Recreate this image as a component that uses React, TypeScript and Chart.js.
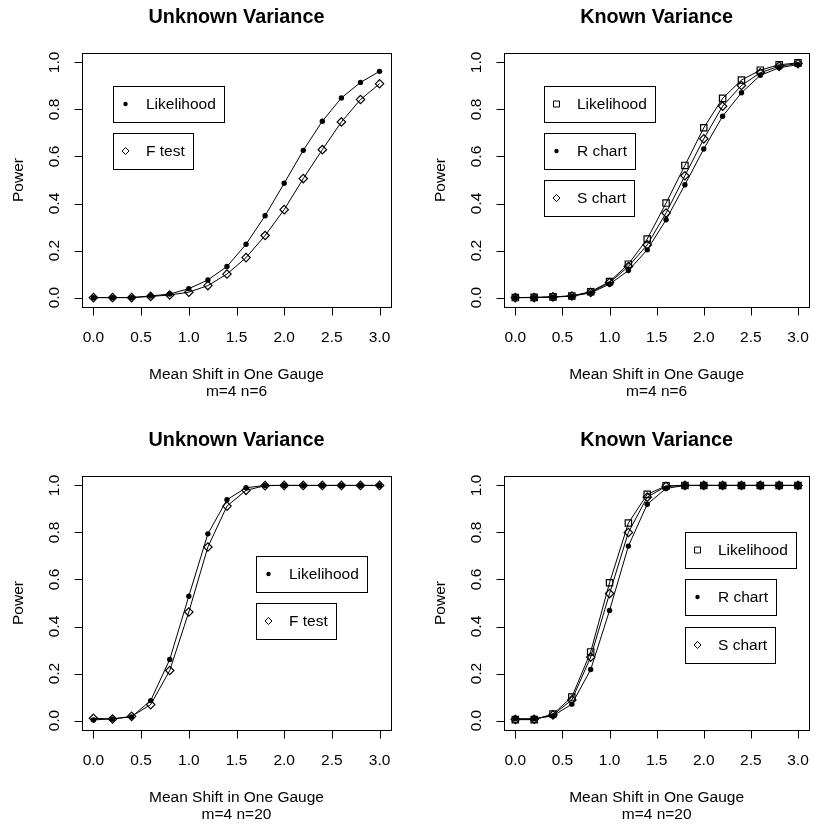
import React, { useEffect, useRef } from 'react';
import { Chart, registerables } from 'chart.js';

Chart.register(...registerables);

// ---------- data ----------
const shifts = [0, 0.2, 0.4, 0.6, 0.8, 1.0, 1.2, 1.4, 1.6, 1.8, 2.0, 2.2, 2.4, 2.6, 2.8, 3.0];

const xTickValues = [0, 0.5, 1.0, 1.5, 2.0, 2.5, 3.0];
const xTickLabels = ['0.0', '0.5', '1.0', '1.5', '2.0', '2.5', '3.0'];
const yTickValues = [0, 0.2, 0.4, 0.6, 0.8, 1.0];
const yTickLabels = ['0.0', '0.2', '0.4', '0.6', '0.8', '1.0'];

// m=4 n=6, unknown variance
const n6UnknownLikelihood = [0, 0, 0, 0.007, 0.015, 0.038, 0.075, 0.132, 0.227, 0.348, 0.486, 0.626, 0.75, 0.849, 0.915, 0.962];
const n6UnknownFTest = [0, 0, 0, 0.005, 0.011, 0.023, 0.051, 0.1, 0.17, 0.264, 0.374, 0.506, 0.629, 0.747, 0.842, 0.909];

// m=4 n=6, known variance
const n6KnownLikelihood = [0, 0.001, 0.003, 0.007, 0.025, 0.068, 0.142, 0.249, 0.402, 0.562, 0.722, 0.847, 0.925, 0.967, 0.99, 0.998];
const n6KnownRChart = [0, 0, 0.002, 0.006, 0.02, 0.057, 0.115, 0.203, 0.331, 0.48, 0.632, 0.771, 0.871, 0.945, 0.977, 0.991];
const n6KnownSChart = [0, 0, 0.003, 0.007, 0.022, 0.064, 0.132, 0.224, 0.36, 0.518, 0.675, 0.814, 0.902, 0.956, 0.984, 0.995];

// m=4 n=20, unknown variance
const n20UnknownLikelihood = [0.003, 0.007, 0.016, 0.085, 0.26, 0.529, 0.794, 0.939, 0.99, 1, 1, 1, 1, 1, 1, 1];
const n20UnknownFTest = [0.01, 0.007, 0.018, 0.068, 0.213, 0.462, 0.738, 0.912, 0.979, 0.999, 1, 1, 1, 1, 1, 1];

// m=4 n=20, known variance
const n20KnownLikelihood = [0.004, 0.004, 0.028, 0.1, 0.292, 0.586, 0.84, 0.962, 0.998, 1, 1, 1, 1, 1, 1, 1];
const n20KnownRChart = [0.008, 0.008, 0.02, 0.07, 0.217, 0.468, 0.742, 0.92, 0.987, 1, 1, 1, 1, 1, 1, 1];
const n20KnownSChart = [0.005, 0.006, 0.024, 0.088, 0.27, 0.54, 0.8, 0.95, 0.996, 1, 1, 1, 1, 1, 1, 1];

// ---------- config ----------
type Marker = 'dot' | 'diamond' | 'square';
type Series = { label: string; values: number[]; marker: Marker };

type PanelSpec = {
  title: string;
  subtitle: string;
  series: Series[];
  legendX: number;
  legendTops: number[];
  left: number;
  top: number;
  width: number;
  height: number;
  padding: { left: number; right: number; top: number; bottom: number };
};

const FONT = "Arial, 'Liberation Sans', sans-serif";

const panels: PanelSpec[] = [
  {
    title: 'Unknown Variance',
    subtitle: 'm=4 n=6',
    series: [
      { label: 'Likelihood', values: n6UnknownLikelihood, marker: 'dot' },
      { label: 'F test', values: n6UnknownFTest, marker: 'diamond' },
    ],
    legendX: 0.2,
    legendTops: [0.9, 0.7],
    left: 0, top: 0, width: 407, height: 413,
    padding: { left: 82, right: 16, top: 53, bottom: 106 },
  },
  {
    title: 'Known Variance',
    subtitle: 'm=4 n=6',
    series: [
      { label: 'Likelihood', values: n6KnownLikelihood, marker: 'square' },
      { label: 'R chart', values: n6KnownRChart, marker: 'dot' },
      { label: 'S chart', values: n6KnownSChart, marker: 'diamond' },
    ],
    legendX: 0.3,
    legendTops: [0.9, 0.7, 0.5],
    left: 407, top: 0, width: 408, height: 413,
    padding: { left: 97, right: 2, top: 53, bottom: 106 },
  },
  {
    title: 'Unknown Variance',
    subtitle: 'm=4 n=20',
    series: [
      { label: 'Likelihood', values: n20UnknownLikelihood, marker: 'dot' },
      { label: 'F test', values: n20UnknownFTest, marker: 'diamond' },
    ],
    legendX: 1.7,
    legendTops: [0.7, 0.5],
    left: 0, top: 413, width: 407, height: 413,
    padding: { left: 82, right: 16, top: 63, bottom: 96 },
  },
  {
    title: 'Known Variance',
    subtitle: 'm=4 n=20',
    series: [
      { label: 'Likelihood', values: n20KnownLikelihood, marker: 'square' },
      { label: 'R chart', values: n20KnownRChart, marker: 'dot' },
      { label: 'S chart', values: n20KnownSChart, marker: 'diamond' },
    ],
    legendX: 1.8,
    legendTops: [0.8, 0.6, 0.4],
    left: 407, top: 413, width: 408, height: 413,
    padding: { left: 97, right: 2, top: 63, bottom: 96 },
  },
];

function pointStyleFor(m: Marker): any {
  if (m === 'dot') return 'circle';
  if (m === 'diamond') return 'rectRot';
  return 'rect';
}

function drawLegendMarker(ctx: CanvasRenderingContext2D, m: Marker, x: number, y: number) {
  ctx.save();
  ctx.strokeStyle = '#000';
  ctx.fillStyle = '#000';
  ctx.lineWidth = 1;
  ctx.beginPath();
  if (m === 'dot') {
    ctx.arc(x, y, 2.2, 0, Math.PI * 2);
    ctx.fill();
  } else if (m === 'diamond') {
    const r = 3.5;
    ctx.moveTo(x - r, y);
    ctx.lineTo(x, y - r);
    ctx.lineTo(x + r, y);
    ctx.lineTo(x, y + r);
    ctx.closePath();
    ctx.stroke();
  } else {
    ctx.rect(x - 3, y - 3, 6, 6);
    ctx.stroke();
  }
  ctx.restore();
}

function makeDecorPlugin(spec: PanelSpec) {
  return {
    id: 'rDecor',
    afterDraw(chart: any) {
      const ctx: CanvasRenderingContext2D = chart.ctx;
      const { left, right, top, bottom } = chart.chartArea;
      const xs = chart.scales.x;
      const ys = chart.scales.y;
      ctx.save();
      ctx.strokeStyle = '#000';
      ctx.fillStyle = '#000';
      ctx.lineWidth = 1;

      // box
      ctx.strokeRect(Math.round(left) + 0.5, Math.round(top) + 0.5, Math.round(right - left), Math.round(bottom - top));

      ctx.font = `15.5px ${FONT}`;
      ctx.textAlign = 'center';
      ctx.textBaseline = 'middle';

      // x axis
      const bx = Math.round(bottom) + 0.5;
      ctx.beginPath();
      xTickValues.forEach((v) => {
        const px = Math.round(xs.getPixelForValue(v)) + 0.5;
        ctx.moveTo(px, bx);
        ctx.lineTo(px, bx + 8);
      });
      ctx.stroke();
      xTickValues.forEach((v, i) => {
        ctx.fillText(xTickLabels[i], xs.getPixelForValue(v), bottom + 31);
      });

      // y axis
      const lx = Math.round(left) + 0.5;
      ctx.beginPath();
      yTickValues.forEach((v) => {
        const py = Math.round(ys.getPixelForValue(v)) + 0.5;
        ctx.moveTo(lx, py);
        ctx.lineTo(lx - 8, py);
      });
      ctx.stroke();
      yTickValues.forEach((v, i) => {
        ctx.save();
        ctx.translate(left - 27, ys.getPixelForValue(v));
        ctx.rotate(-Math.PI / 2);
        ctx.fillText(yTickLabels[i], 0, 0);
        ctx.restore();
      });

      // axis titles
      const cx = (left + right) / 2;
      const cy = (top + bottom) / 2;
      ctx.fillText('Mean Shift in One Gauge', cx, bottom + 68);
      ctx.fillText(spec.subtitle, cx, bottom + 85);
      ctx.save();
      ctx.translate(left - 63, cy);
      ctx.rotate(-Math.PI / 2);
      ctx.fillText('Power', 0, 0);
      ctx.restore();

      // main title
      ctx.font = `bold 19.8px ${FONT}`;
      ctx.fillText(spec.title, cx, top - 35);

      // legends (one box per series, R style)
      ctx.font = `15.5px ${FONT}`;
      ctx.textAlign = 'left';
      spec.series.forEach((s, i) => {
        const bxL = Math.round(xs.getPixelForValue(spec.legendX));
        const byT = Math.round(ys.getPixelForValue(spec.legendTops[i]));
        const tw = ctx.measureText(s.label).width;
        const w = Math.round(33 + tw + 8);
        const h = 36;
        ctx.fillStyle = '#fff';
        ctx.fillRect(bxL, byT, w, h);
        ctx.fillStyle = '#000';
        ctx.strokeRect(bxL + 0.5, byT + 0.5, w, h);
        drawLegendMarker(ctx, s.marker, bxL + 12.5, byT + 18);
        ctx.fillText(s.label, bxL + 33, byT + 19);
      });
      ctx.restore();
    },
  };
}

function PanelChart({ spec }: { spec: PanelSpec }) {
  const ref = useRef<HTMLCanvasElement | null>(null);
  useEffect(() => {
    if (!ref.current) return;
    const datasets = spec.series.map((s) => ({
      label: s.label,
      data: shifts.map((x, i) => ({ x, y: s.values[i] })),
      borderColor: '#000',
      borderWidth: 1,
      backgroundColor: s.marker === 'dot' ? '#000' : 'rgba(0,0,0,0)',
      pointStyle: pointStyleFor(s.marker),
      pointRadius: s.marker === 'dot' ? 2.7 : s.marker === 'diamond' ? 4.2 : 4.5,
      pointBorderColor: '#000',
      pointBorderWidth: s.marker === 'dot' ? 0 : 1.2,
      pointBackgroundColor: s.marker === 'dot' ? '#000' : 'rgba(0,0,0,0)',
      tension: 0,
      fill: false,
      clip: false as any,
    }));
    const chart = new Chart(ref.current, {
      type: 'line',
      data: { datasets },
      options: {
        animation: false,
        responsive: false,
        maintainAspectRatio: false,
        devicePixelRatio: 1,
        layout: { padding: spec.padding },
        plugins: { legend: { display: false }, tooltip: { enabled: false }, title: { display: false } },
        events: [],
        scales: {
          x: { type: 'linear', min: -0.12, max: 3.12, display: false },
          y: { type: 'linear', min: -0.04, max: 1.04, display: false },
        },
      },
      plugins: [makeDecorPlugin(spec)],
    });
    return () => chart.destroy();
  }, [spec]);
  return (
    <canvas
      ref={ref}
      width={spec.width}
      height={spec.height}
      style={{ position: 'absolute', left: spec.left, top: spec.top, width: spec.width, height: spec.height }}
    />
  );
}

export default function App() {
  return (
    <div style={{ position: 'absolute', left: 0, top: 0, width: 815, height: 826, background: '#fff' }}>
      {panels.map((p, i) => (
        <PanelChart key={i} spec={p} />
      ))}
    </div>
  );
}
